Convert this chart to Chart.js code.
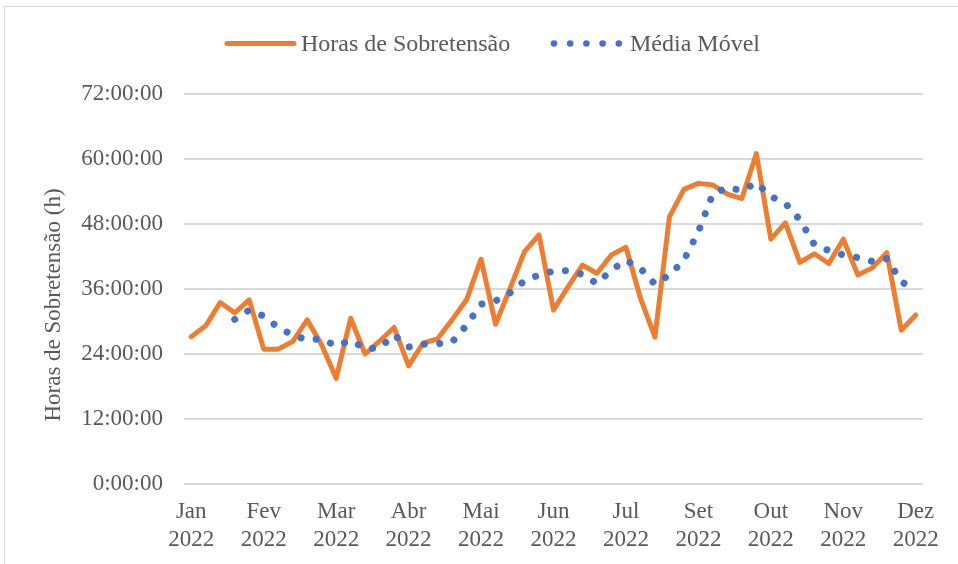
<!DOCTYPE html>
<html>
<head>
<meta charset="utf-8">
<script src="https://cdn.jsdelivr.net/npm/chart.js@4"></script>
<style>
  html, body { margin: 0; padding: 0; background: #fff; overflow: hidden; }
  #frame { position: absolute; left: 4px; top: 6px; width: 980px; height: 600px; border: 1px solid #d9d9d9; }
  canvas { position: absolute; left: 0; top: 0; }
</style>
</head>
<body>
<div id="frame"></div>
<canvas id="chart" width="958" height="564"></canvas>
<script>
/* ============ DATA ============ */
const weeks = [1, 2, 3, 4, 5, 6, 7, 8, 9, 10, 11, 12, 13, 14, 15, 16, 17, 18, 19, 20,
  21, 22, 23, 24, 25, 26, 27, 28, 29, 30, 31, 32, 33, 34, 35, 36, 37, 38, 39, 40,
  41, 42, 43, 44, 45, 46, 47, 48, 49, 50, 51];

// horas de sobretensão por semana (h)
const overvoltageHours = [27.2, 29.2, 33.5, 31.6, 34.0, 24.9, 24.9, 26.3, 30.3, 25.7,
  19.5, 30.6, 24.0, 26.4, 28.9, 21.8, 26.0, 26.8, 30.3, 34.0,
  41.5, 29.5, 36.1, 42.9, 46.0, 32.1, 36.4, 40.4, 38.9, 42.3,
  43.7, 34.3, 27.1, 49.3, 54.4, 55.5, 55.2, 53.5, 52.7, 61.0,
  45.2, 48.2, 40.9, 42.5, 40.7, 45.2, 38.6, 39.9, 42.7, 28.4, 31.2];

// média móvel
const movingAverage = [null, null, null, 30.4, 32.1, 31.0, 28.9, 27.5, 26.6, 26.8,
  25.5, 26.5, 25.0, 25.1, 27.5, 25.3, 25.8, 25.9, 26.2, 29.3,
  33.2, 33.8, 35.3, 37.5, 38.6, 39.3, 39.4, 38.7, 37.0, 39.5,
  41.3, 39.8, 36.9, 38.6, 41.3, 46.6, 53.6, 54.7, 54.2, 55.6,
  53.1, 51.8, 48.8, 44.2, 43.1, 42.3, 41.8, 41.1, 41.6, 37.4, 35.6];

const monthLabels = ['Jan', 'Fev', 'Mar', 'Abr', 'Mai', 'Jun', 'Jul', 'Set', 'Out', 'Nov', 'Dez'];
const yearLabel = '2022';
const seriesNames = ['Horas de Sobretensão', 'Média Móvel'];
const yTitle = 'Horas de Sobretensão (h)';
const yTicks = [0, 12, 24, 36, 48, 60, 72];

/* ============ STYLE ============ */
const ORANGE = '#ED7D31';
const BLUE = '#4472C4';
const TEXT = '#595959';
const GRID = '#D9D9D9';
const SERIF = "'Liberation Serif', 'Times New Roman', serif";

/* ============ LEGEND + AXIS TITLE (drawn like Excel) ============ */
const excelDecor = {
  id: 'excelDecor',
  afterDraw(chart) {
    const ctx = chart.ctx;
    ctx.save();
    ctx.font = '24px ' + SERIF;
    ctx.textBaseline = 'middle';

    ctx.strokeStyle = ORANGE;
    ctx.lineWidth = 5;
    ctx.lineCap = 'round';
    ctx.beginPath();
    ctx.moveTo(227, 43.5);
    ctx.lineTo(294, 43.5);
    ctx.stroke();
    ctx.fillStyle = TEXT;
    ctx.fillText(seriesNames[0], 301, 45);

    ctx.fillStyle = BLUE;
    for (let k = 0; k < 5; k++) {
      ctx.beginPath();
      ctx.arc(554 + k * 16.2, 43.5, 3.3, 0, Math.PI * 2);
      ctx.fill();
    }
    ctx.fillStyle = TEXT;
    ctx.fillText(seriesNames[1], 630, 45);

    // y axis title, centred a little below the plot centre as in Excel
    ctx.font = '23px ' + SERIF;
    ctx.textAlign = 'center';
    ctx.translate(54, 305);
    ctx.rotate(-Math.PI / 2);
    ctx.fillText(yTitle, 0, 0);
    ctx.restore();
  }
};

/* ============ CHART ============ */
new Chart(document.getElementById('chart'), {
  type: 'line',
  data: {
    labels: weeks,
    datasets: [
      {
        label: seriesNames[0],
        data: overvoltageHours,
        borderColor: ORANGE,
        borderWidth: 5,
        borderCapStyle: 'round',
        borderJoinStyle: 'round',
        pointRadius: 0,
        tension: 0,
        fill: false,
        order: 2
      },
      {
        label: seriesNames[1],
        data: movingAverage,
        borderColor: BLUE,
        borderWidth: 7,
        borderDash: [0.01, 15.3],
        borderCapStyle: 'round',
        pointRadius: 0,
        tension: 0,
        fill: false,
        order: 1
      }
    ]
  },
  options: {
    responsive: false,
    animation: false,
    events: [],
    layout: { padding: { top: 94, right: 35, bottom: 0, left: 0 } },
    plugins: { legend: { display: false }, tooltip: { enabled: false } },
    scales: {
      x: {
        offset: true,
        grid: { display: false, drawTicks: false },
        border: { display: false },
        afterFit: s => { s.height = 80; },
        ticks: {
          autoSkip: false,
          maxRotation: 0,
          padding: 14,
          color: TEXT,
          font: { family: SERIF, size: 23, lineHeight: '28px' },
          callback: (v, i) => i % 5 === 0 ? [monthLabels[i / 5], yearLabel] : ''
        }
      },
      y: {
        min: yTicks[0],
        max: yTicks[yTicks.length - 1],
        afterFit: s => { s.width = 184; },
        afterBuildTicks: s => { s.ticks = yTicks.map(v => ({ value: v })); },
        grid: { color: GRID, lineWidth: 2, drawTicks: false },
        border: { display: false },
        ticks: {
          padding: 21,
          color: TEXT,
          font: { family: SERIF, size: 23 },
          callback: v => v + ':00:00'
        }
      }
    }
  },
  plugins: [excelDecor]
});
</script>
</body>
</html>
